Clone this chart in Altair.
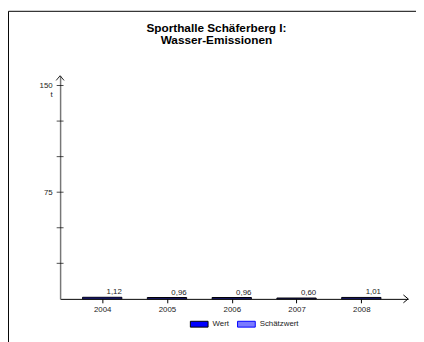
import altair as alt
import pandas as pd

# ---- data ----
years = [2004, 2005, 2006, 2007, 2008]
values = [1.12, 0.96, 0.96, 0.60, 1.01]
kinds = ["Wert", "Wert", "Wert", "Wert", "Wert"]
legend_domain = ["Wert", "Schätzwert"]
y_tick_values = [25, 50, 75, 100, 125, 150]
y_label_values = [75, 150]
title_lines = ["Sporthalle Schäferberg I:", "Wasser-Emissionen"]
unit = "t"

FONT = "Liberation Sans"

df = pd.DataFrame({"Jahr": years, "Wert": values, "Art": kinds})
ticks_df = pd.DataFrame({"v": y_tick_values})
one = alt.Data(values=[{"a": 1}])

W, H = 354, 227
xscale = alt.Scale(domain=[2003.426, 2008.647], nice=False, zero=False)
yscale = alt.Scale(domain=[0, 156.9], nice=False, zero=True)

legend_kw = dict(title=None, orient="none", legendX=132, legendY=243,
                 direction="horizontal", symbolType="M-1,-0.33H1V0.33H-1Z",
                 symbolSize=324, symbolStrokeWidth=1, labelFontSize=8,
                 labelFont=FONT, labelColor="#222", labelOffset=4,
                 columnPadding=6, padding=0)

base = alt.Chart(df)

bars = base.mark_bar(size=40, stroke="black", strokeWidth=1).encode(
    x=alt.X("Jahr:Q", scale=xscale,
            axis=alt.Axis(values=years, format="d", title=None, grid=False,
                          tickSize=4, tickColor="black", domainColor="black",
                          domainWidth=1, labelPadding=3, labelFontSize=8,
                          labelColor="#222", labelFont=FONT)),
    y=alt.Y("Wert:Q", scale=yscale,
            axis=alt.Axis(values=y_label_values, title=unit, titleAngle=0,
                          titleX=-8, titleY=19, titleAlign="right",
                          titleBaseline="middle", titleFontSize=8,
                          titleFontWeight="normal", titleFont=FONT,
                          titleColor="#222",
                          ticks=False, tickSize=0, grid=False,
                          domainColor="#777", domainWidth=1.5,
                          labelPadding=8, labelFontSize=8, labelColor="#222",
                          labelFont=FONT)),
    fill=alt.Fill("Art:N", scale=alt.Scale(domain=legend_domain,
                                           range=["#0000ff", "#7a7aff"]),
                  legend=alt.Legend(**legend_kw)),
    stroke=alt.Stroke("Art:N", scale=alt.Scale(domain=legend_domain,
                                               range=["#000000", "#0000ff"]),
                      legend=alt.Legend(**legend_kw)),
)

labels = base.transform_calculate(
    lab="replace(format(datum.Wert, '.2f'), '.', ',')"
).mark_text(align="right", baseline="alphabetic", dx=20, dy=-3,
            fontSize=8, font=FONT, color="#222").encode(
    x=alt.X("Jahr:Q", scale=xscale),
    y=alt.Y("Wert:Q", scale=yscale),
    text="lab:N",
)

yticks = alt.Chart(ticks_df).mark_tick(orient="horizontal", size=7,
                                       thickness=1, color="black").encode(
    y=alt.Y("v:Q", scale=yscale),
    x=alt.value(0),
)

x_arrow = alt.Chart(one).mark_point(shape="M-1.2,-1L0,0L-1.2,1", size=64,
                                    filled=False, stroke="black",
                                    strokeWidth=1, opacity=1).encode(
    x=alt.value(W), y=alt.value(H))
y_arrow = alt.Chart(one).mark_point(shape="M-1,1.2L0,0L1,1.2", size=64,
                                    filled=False, stroke="#222",
                                    strokeWidth=1, opacity=1).encode(
    x=alt.value(0), y=alt.value(0))

title1 = alt.Chart(one).mark_text(fontSize=12, fontWeight="bold", font=FONT,
                                  align="center", baseline="alphabetic",
                                  color="black").encode(
    x=alt.value(159), y=alt.value(-44), text=alt.value(title_lines[0]))
title2 = alt.Chart(one).mark_text(fontSize=12, fontWeight="bold", font=FONT,
                                  align="center", baseline="alphabetic",
                                  color="black").encode(
    x=alt.value(159), y=alt.value(-32), text=alt.value(title_lines[1]))

frame_left = alt.Chart(one).mark_rule(color="black", strokeWidth=1).encode(
    x=alt.value(-52.5), y=alt.value(-65.5), y2=alt.value(300))
frame_top = alt.Chart(one).mark_rule(color="black", strokeWidth=1).encode(
    y=alt.value(-65.5), x=alt.value(-52.5), x2=alt.value(420))

chart = alt.layer(
    frame_left, frame_top, title1, title2, bars, labels, yticks, x_arrow, y_arrow
).resolve_scale(
    fill="shared", stroke="shared"
).properties(
    width=W, height=H,
    autosize=alt.AutoSizeParams(type="none"),
    padding={"left": 53, "top": 66, "right": 8, "bottom": 41},
    background="white",
).configure_view(stroke=None)

chart.save("out.html", embed_options={"renderer": "svg", "actions": False})
